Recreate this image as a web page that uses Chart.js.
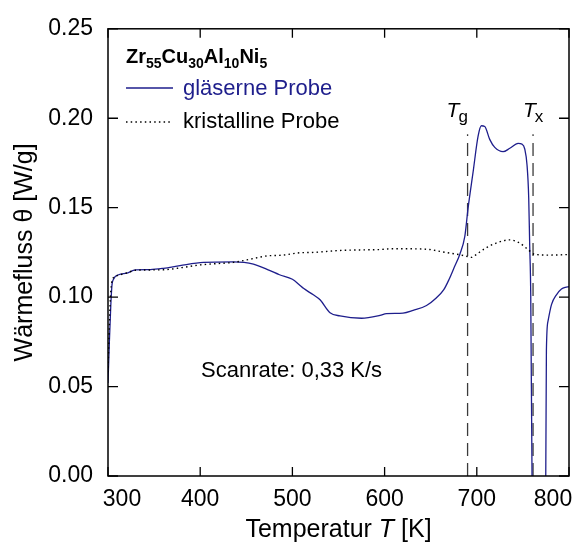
<!DOCTYPE html>
<html>
<head>
<meta charset="utf-8">
<script src="https://cdn.jsdelivr.net/npm/chart.js@4.4.1/dist/chart.umd.min.js"></script>
<style>
  html, body { margin: 0; padding: 0; background: #fff; }
</style>
</head>
<body>
<canvas id="dscChart" width="577" height="544"></canvas>
<script>
// DSC-Kurven Zr55Cu30Al10Ni5, Werte
const glasT = [300, 301.5, 303, 304.3, 306, 311.5, 320.6, 329.6, 345.8, 360, 378, 403.6, 436, 457.7, 475.8,
  486, 500, 508, 512, 522.7, 530, 540.8, 551.6, 575, 595, 602, 620, 631, 645.5, 656, 664, 670, 675,
  681.6, 687, 690.6, 696, 701.4, 705, 708.6, 714, 719.5, 728.5, 735.8, 744.8, 749, 752, 754.5, 756.3,
  757.4, 758.5, 759.9, 761, 773, 774.8, 775.5, 777.3, 781, 786.4, 791.8, 796, 800];
const glasQ = [0.052, 0.075, 0.095, 0.1067, 0.110, 0.1125, 0.1134, 0.1152, 0.1154, 0.1161, 0.1176, 0.1194, 0.1197, 0.1185, 0.1148,
  0.1125, 0.1100, 0.1067, 0.1049, 0.1013, 0.0985, 0.0913, 0.0895, 0.0882, 0.0898, 0.0908, 0.0911, 0.0926, 0.0953, 0.0995, 0.104, 0.110, 0.116,
  0.124, 0.1339, 0.150, 0.170, 0.190, 0.1958, 0.1954, 0.1882, 0.1837, 0.1813, 0.1832, 0.1859, 0.1855, 0.1828, 0.1737, 0.1556,
  0.1284, 0.1013, 0.0, -0.03, -0.03, 0.0, 0.0704, 0.0867, 0.0958, 0.1013, 0.1045, 0.1055, 0.1058];

const kristT = [300, 301.5, 303, 305, 310, 320, 330, 345, 364, 380, 400, 420, 436, 450.6, 472, 490, 508, 522.7,
  551.6, 575, 595, 605.8, 630, 649, 663.5, 681.6, 690.6, 694, 700, 707, 721, 735.8, 746.6, 755.6, 762.8, 779, 800];
const kristQ = [0.058, 0.085, 0.103, 0.110, 0.112, 0.1135, 0.1150, 0.1152, 0.1154, 0.1165, 0.118, 0.1188, 0.1194, 0.1208, 0.123, 0.1235, 0.1248, 0.1250,
  0.1261, 0.1264, 0.1266, 0.1270, 0.1270, 0.1266, 0.1252, 0.1237, 0.1226, 0.1222, 0.1240, 0.1266, 0.1302, 0.132, 0.1302, 0.1266, 0.1239, 0.1235, 0.1238];

const tg = 690;
const tx = 761;
const markTop = 0.191;

const xTicks = [300, 400, 500, 600, 700, 800];
const yTicks = [0, 0.05, 0.10, 0.15, 0.20, 0.25];

const FONT = "'Liberation Sans', Arial, Helvetica, sans-serif";
const BLUE = '#1e1e8c';

const toPoints = (xs, ys) => xs.map((x, i) => ({ x: x, y: ys[i] }));

// Rahmen, innenliegende Ticks, Legende und Beschriftungen
const frame = {
  id: 'frame',
  afterDraw(chart) {
    const ctx = chart.ctx;
    const a = chart.chartArea;
    const xs = chart.scales.x;
    const ys = chart.scales.y;
    ctx.save();

    ctx.strokeStyle = '#000';
    ctx.lineWidth = 1.5;
    ctx.strokeRect(a.left, a.top, a.right - a.left, a.bottom - a.top);

    ctx.lineWidth = 1.3;
    ctx.beginPath();
    xTicks.forEach(v => {
      const px = xs.getPixelForValue(v);
      ctx.moveTo(px, a.bottom); ctx.lineTo(px, a.bottom - 9);
      ctx.moveTo(px, a.top); ctx.lineTo(px, a.top + 9);
    });
    yTicks.forEach(v => {
      const py = ys.getPixelForValue(v);
      ctx.moveTo(a.left, py); ctx.lineTo(a.left + 10, py);
      ctx.moveTo(a.right, py); ctx.lineTo(a.right - 10, py);
    });
    ctx.stroke();

    // x tick labels (first and last pulled inside like the original)
    ctx.fillStyle = '#000';
    ctx.font = '23px ' + FONT;
    ctx.textBaseline = 'alphabetic';
    xTicks.forEach((v, i) => {
      const px = xs.getPixelForValue(v);
      let shift = 0;
      if (i === 0) shift = 14;
      if (i === xTicks.length - 1) shift = -16;
      ctx.textAlign = 'center';
      ctx.fillText(String(v), px + shift, a.bottom + 30);
    });

    // x title with italic T
    const parts = [['Temperatur ', ''], ['T', 'italic '], [' [K]', '']];
    ctx.textAlign = 'left';
    let total = 0;
    parts.forEach(p => { ctx.font = p[1] + '25px ' + FONT; total += ctx.measureText(p[0]).width; });
    let cx = (a.left + a.right) / 2 - total / 2;
    parts.forEach(p => {
      ctx.font = p[1] + '25px ' + FONT;
      ctx.fillText(p[0], cx, 537);
      cx += ctx.measureText(p[0]).width;
    });

    // legend title with subscripts
    const formula = [['Zr', 0], ['55', 1], ['Cu', 0], ['30', 1], ['Al', 0], ['10', 1], ['Ni', 0], ['5', 1]];
    let lx = a.left + 18;
    formula.forEach(f => {
      ctx.font = f[1] ? 'bold 14px ' + FONT : 'bold 20px ' + FONT;
      ctx.fillText(f[0], lx, f[1] ? 68 : 63);
      lx += ctx.measureText(f[0]).width;
    });

    ctx.strokeStyle = BLUE;
    ctx.lineWidth = 1.3;
    ctx.beginPath();
    ctx.moveTo(a.left + 18, 88); ctx.lineTo(a.left + 65, 88);
    ctx.stroke();
    ctx.font = '22px ' + FONT;
    ctx.fillStyle = BLUE;
    ctx.fillText('gläserne Probe', a.left + 75, 95);

    ctx.strokeStyle = '#000';
    ctx.setLineDash([1.5, 3.2]);
    ctx.beginPath();
    ctx.moveTo(a.left + 18, 122); ctx.lineTo(a.left + 63, 122);
    ctx.stroke();
    ctx.setLineDash([]);
    ctx.fillStyle = '#000';
    ctx.fillText('kristalline Probe', a.left + 75, 128);

    // Tg / Tx labels
    const markLabel = (val, sub, dx) => {
      const px = xs.getPixelForValue(val) + dx;
      const py = ys.getPixelForValue(markTop) - 17;
      ctx.font = 'italic 21px ' + FONT;
      ctx.fillText('T', px, py);
      const w = ctx.measureText('T').width;
      ctx.font = '17px ' + FONT;
      ctx.fillText(sub, px + w - 1, py + 5);
    };
    markLabel(tg, 'g', -21);
    markLabel(tx, 'x', -10);

    ctx.font = '22px ' + FONT;
    ctx.fillText('Scanrate: 0,33 K/s', xs.getPixelForValue(401), ys.getPixelForValue(0.0555));

    ctx.restore();
  }
};

new Chart(document.getElementById('dscChart'), {
  type: 'line',
  data: {
    datasets: [
      {
        label: 'kristalline Probe',
        data: toPoints(kristT, kristQ),
        borderColor: '#000',
        borderWidth: 1.4,
        borderDash: [1.5, 3.2],
        pointRadius: 0,
        cubicInterpolationMode: 'monotone',
        fill: false
      },
      {
        label: 'gläserne Probe',
        data: toPoints(glasT, glasQ),
        borderColor: BLUE,
        borderWidth: 1.3,
        pointRadius: 0,
        cubicInterpolationMode: 'monotone',
        fill: false
      },
      {
        label: 'Tg',
        data: [{ x: tg, y: 0 }, { x: tg, y: markTop }],
        borderColor: '#3a3a3a',
        borderWidth: 1.3,
        borderDash: [13, 7],
        pointRadius: 0
      },
      {
        label: 'Tx',
        data: [{ x: tx, y: 0 }, { x: tx, y: markTop }],
        borderColor: '#3a3a3a',
        borderWidth: 1.3,
        borderDash: [13, 7],
        pointRadius: 0
      }
    ]
  },
  options: {
    responsive: false,
    animation: false,
    devicePixelRatio: 1,
    layout: { padding: { top: 16, right: 8, left: 0, bottom: 0 } },
    plugins: { legend: { display: false }, tooltip: { enabled: false } },
    scales: {
      x: {
        type: 'linear', min: 300, max: 800,
        afterBuildTicks: s => { s.ticks = xTicks.map(v => ({ value: v })); },
        afterFit: s => { s.height = 68; },
        grid: { display: false, drawTicks: false },
        border: { display: false },
        ticks: { display: false }
      },
      y: {
        type: 'linear', min: 0, max: 0.25,
        afterBuildTicks: s => { s.ticks = yTicks.map(v => ({ value: v })); },
        afterFit: s => { s.width = 108; },
        grid: { display: false, drawTicks: false },
        border: { display: false },
        ticks: {
          color: '#000', padding: 15,
          font: { family: FONT, size: 23 },
          callback: v => v.toFixed(2)
        },
        title: {
          display: true, text: 'Wärmefluss θ [W/g]', color: '#000',
          font: { family: FONT, size: 25 },
          padding: { top: 10, bottom: 0 }
        }
      }
    }
  },
  plugins: [frame]
});
</script>
</body>
</html>
